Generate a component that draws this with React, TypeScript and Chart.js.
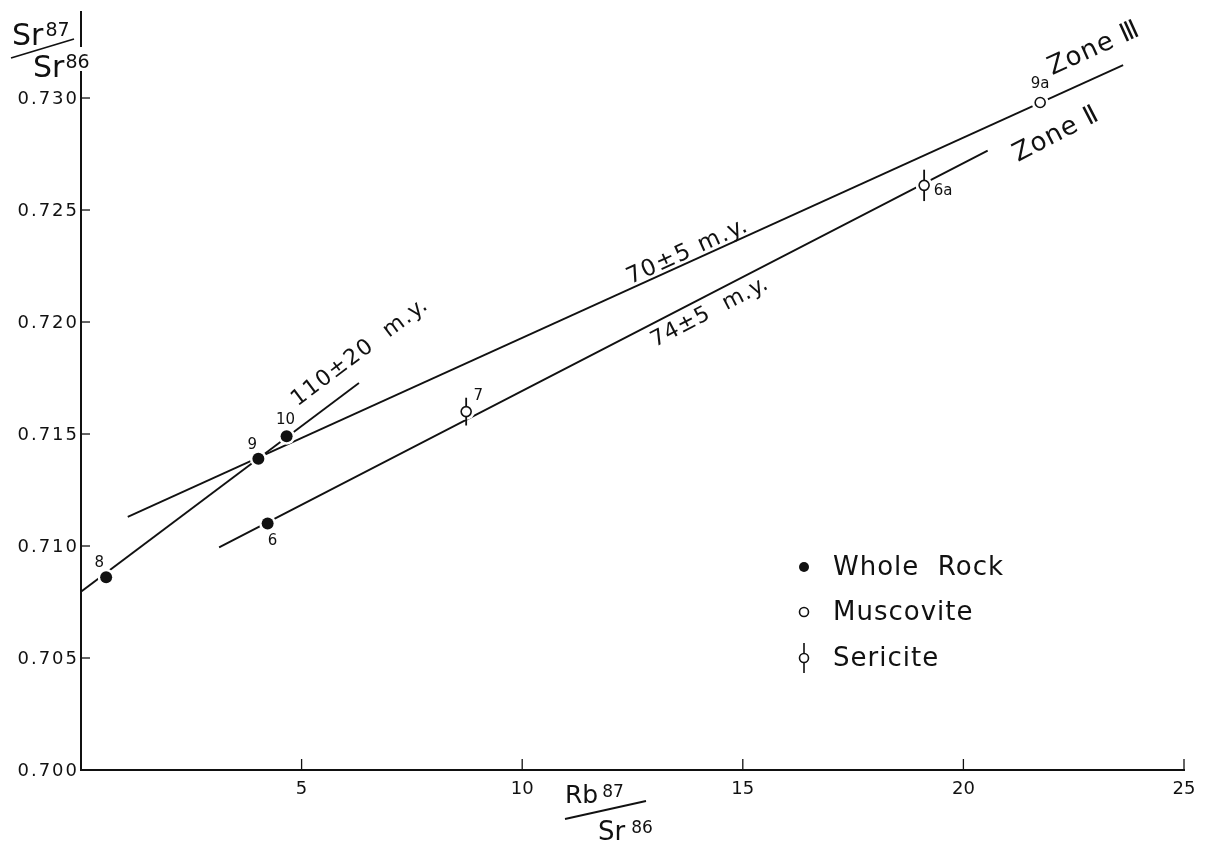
import React, { useEffect, useRef } from 'react';
import { Chart, registerables } from 'chart.js';

Chart.register(...registerables);

// ---------- data ----------
const xTickValues = [5, 10, 15, 20, 25];
const xTickLabels = ['5', '10', '15', '20', '25'];
const yTickValues = [0.7, 0.705, 0.71, 0.715, 0.72, 0.725, 0.73];
const yTickLabels = ['0.700', '0.705', '0.710', '0.715', '0.720', '0.725', '0.730'];

const wholeRockIds = ['8', '9', '10', '6'];
const wholeRockRb = [0.57, 4.02, 4.66, 4.23];
const wholeRockSr = [0.7086, 0.7139, 0.7149, 0.711];

const muscoviteIds = ['9a'];
const muscoviteRb = [21.74];
const muscoviteSr = [0.7298];

const sericiteIds = ['7', '6a'];
const sericiteRb = [8.73, 19.11];
const sericiteSr = [0.716, 0.7261];
const sericiteErr = [0.00062, 0.0007];

// isochron lines (end points)
const zone3Rb = [1.06, 23.62];
const zone3Sr = [0.7113, 0.73147];
const zone2Rb = [3.13, 20.55];
const zone2Sr = [0.70994, 0.72765];
const iso110Rb = [0, 6.3];
const iso110Sr = [0.70796, 0.71728];

const xMin = 0;
const xMax = 25;
const yMin = 0.7;
const yMax = 0.73384;

// ---------- styles ----------
const FONT = '"DejaVu Sans", "Liberation Sans", sans-serif';
const INK = '#111';

const idLabelOffsets: Record<string, [number, number]> = {
  '8': [-7, -14],
  '9': [-6, -14],
  '10': [-1, -16],
  '6': [5, 18],
  '7': [12, -15],
  '6a': [19, 6],
  '9a': [0, -18],
};

type Ann = { text: string; line: 'z3' | 'z2' | 'i110'; ax: number; off: number; size: number; ls: number };
const annotations: Ann[] = [
  { text: '70±5 m.y.', line: 'z3', ax: 12.49, off: 4, size: 23, ls: 1.5 },
  { text: '74±5  m.y.', line: 'z2', ax: 12.78, off: -22, size: 22, ls: 1 },
  { text: '110±20  m.y.', line: 'i110', ax: 5.15, off: 18, size: 22, ls: 1.5 },
  { text: 'Zone Ⅲ', line: 'z3', ax: 22.2, off: 20, size: 26, ls: 1 },
  { text: 'Zone Ⅱ', line: 'z2', ax: 20.99, off: -24, size: 26, ls: 1 },
];

const pts = (xs: number[], ys: number[]) => xs.map((x, i) => ({ x, y: ys[i] }));

export default function App() {
  const ref = useRef<HTMLCanvasElement | null>(null);

  useEffect(() => {
    const canvas = ref.current;
    if (!canvas) return;

    const lineDs = (data: any[]) => ({
      type: 'scatter' as const,
      data,
      showLine: true,
      borderColor: INK,
      borderWidth: 1.8,
      pointRadius: 0,
      order: 5,
    });

    const allRb = [...wholeRockRb, ...muscoviteRb, ...sericiteRb];
    const allSr = [...wholeRockSr, ...muscoviteSr, ...sericiteSr];

    const errDatasets = sericiteRb.map((x, i) => ({
      type: 'scatter' as const,
      data: [
        { x, y: sericiteSr[i] - sericiteErr[i] },
        { x, y: sericiteSr[i] + sericiteErr[i] },
      ],
      showLine: true,
      borderColor: INK,
      borderWidth: 1.8,
      pointRadius: 0,
      order: 2,
    }));

    const overlay = {
      id: 'overlay',
      afterDraw(chart: any) {
        const ctx = chart.ctx as CanvasRenderingContext2D;
        const xs = chart.scales.x;
        const ys = chart.scales.y;
        const area = chart.chartArea;
        ctx.save();
        ctx.fillStyle = INK;
        ctx.strokeStyle = INK;

        // inward tick marks
        ctx.lineWidth = 1.3;
        xTickValues.forEach((v) => {
          const px = xs.getPixelForValue(v);
          ctx.beginPath();
          ctx.moveTo(px, area.bottom);
          ctx.lineTo(px, area.bottom - 11);
          ctx.stroke();
        });
        yTickValues.forEach((v) => {
          const py = ys.getPixelForValue(v);
          ctx.beginPath();
          ctx.moveTo(area.left, py);
          ctx.lineTo(area.left + 9, py);
          ctx.stroke();
        });

        // y tick labels (wide lettering)
        ctx.font = `18px ${FONT}`;
        (ctx as any).letterSpacing = '2px';
        ctx.textAlign = 'right';
        ctx.textBaseline = 'middle';
        yTickValues.forEach((v, i) => {
          ctx.fillText(yTickLabels[i], area.left - 2, ys.getPixelForValue(v) + 1);
        });
        (ctx as any).letterSpacing = '0px';

        // point id labels
        ctx.font = `15px ${FONT}`;
        ctx.textAlign = 'center';
        ctx.textBaseline = 'middle';
        const drawIds = (ids: string[], rx: number[], ry: number[]) => {
          ids.forEach((id, i) => {
            const o = idLabelOffsets[id] || [0, -15];
            ctx.fillText(id, xs.getPixelForValue(rx[i]) + o[0], ys.getPixelForValue(ry[i]) + o[1]);
          });
        };
        drawIds(wholeRockIds, wholeRockRb, wholeRockSr);
        drawIds(muscoviteIds, muscoviteRb, muscoviteSr);
        drawIds(sericiteIds, sericiteRb, sericiteSr);

        // rotated annotations along lines
        const lines: Record<string, [number[], number[]]> = {
          z3: [zone3Rb, zone3Sr],
          z2: [zone2Rb, zone2Sr],
          i110: [iso110Rb, iso110Sr],
        };
        annotations.forEach((a) => {
          const [lx, ly] = lines[a.line];
          const x0 = xs.getPixelForValue(lx[0]);
          const y0 = ys.getPixelForValue(ly[0]);
          const x1 = xs.getPixelForValue(lx[1]);
          const y1 = ys.getPixelForValue(ly[1]);
          const th = Math.atan2(y1 - y0, x1 - x0);
          const ax = xs.getPixelForValue(a.ax);
          const ay = y0 + ((ax - x0) * (y1 - y0)) / (x1 - x0);
          const nx = Math.sin(th);
          const ny = -Math.cos(th);
          ctx.save();
          ctx.translate(ax + nx * a.off, ay + ny * a.off);
          ctx.rotate(th);
          ctx.font = `${a.size}px ${FONT}`;
          (ctx as any).letterSpacing = `${a.ls}px`;
          ctx.textAlign = 'left';
          ctx.textBaseline = 'alphabetic';
          ctx.fillText(a.text, 0, 0);
          ctx.restore();
        });

        // axis titles
        const sup = (x: number, y: number, base: string, s: string, bs: number, ss: number, dy: number, gap: number) => {
          ctx.textAlign = 'left';
          ctx.textBaseline = 'alphabetic';
          ctx.font = `${bs}px ${FONT}`;
          ctx.fillText(base, x, y);
          const w = ctx.measureText(base).width;
          ctx.font = `${ss}px ${FONT}`;
          ctx.fillText(s, x + w + gap, y - dy);
        };
        ctx.fillStyle = '#fff';
        ctx.fillRect(area.left - 3, 47, 7, 24);
        ctx.fillStyle = INK;
        sup(12, 45, 'Sr', '87', 30, 19, 9, 2);
        sup(33, 77, 'Sr', '86', 30, 19, 9, 1);
        ctx.lineWidth = 1.8;
        ctx.beginPath();
        ctx.moveTo(11, 58);
        ctx.lineTo(74, 39);
        ctx.stroke();

        sup(565, 803, 'Rb', '87', 25, 17, 6, 4);
        sup(598, 840, 'Sr', '86', 26, 17, 7, 6);
        ctx.beginPath();
        ctx.moveTo(565, 819);
        ctx.lineTo(646, 801);
        ctx.stroke();

        // legend
        const lx = 804;
        const rows = [567, 612, 658];
        ctx.lineWidth = 1.6;
        ctx.beginPath();
        ctx.arc(lx, rows[0], 5, 0, Math.PI * 2);
        ctx.fill();
        ctx.beginPath();
        ctx.arc(lx, rows[1], 4.5, 0, Math.PI * 2);
        ctx.stroke();
        ctx.beginPath();
        ctx.moveTo(lx, rows[2] - 15);
        ctx.lineTo(lx, rows[2] - 4.5);
        ctx.moveTo(lx, rows[2] + 4.5);
        ctx.lineTo(lx, rows[2] + 15);
        ctx.stroke();
        ctx.beginPath();
        ctx.arc(lx, rows[2], 4.5, 0, Math.PI * 2);
        ctx.stroke();
        ctx.font = `26px ${FONT}`;
        (ctx as any).letterSpacing = '1px';
        ctx.textAlign = 'left';
        ctx.textBaseline = 'middle';
        ctx.fillText('Whole  Rock', 833, rows[0] + 1);
        ctx.fillText('Muscovite', 833, rows[1] + 1);
        ctx.fillText('Sericite', 833, rows[2] + 1);
        (ctx as any).letterSpacing = '0px';
        ctx.restore();
      },
    };

    const chart = new Chart(canvas, {
      type: 'scatter',
      data: {
        datasets: [
          {
            label: 'Whole Rock',
            data: pts(wholeRockRb, wholeRockSr),
            pointRadius: 6,
            backgroundColor: INK,
            borderWidth: 0,
            order: 0,
          } as any,
          {
            label: 'Muscovite',
            data: pts(muscoviteRb, muscoviteSr),
            pointRadius: 5,
            backgroundColor: '#fff',
            borderColor: INK,
            borderWidth: 1.6,
            order: 1,
          },
          {
            label: 'Sericite',
            data: pts(sericiteRb, sericiteSr),
            pointRadius: 5,
            backgroundColor: '#fff',
            borderColor: INK,
            borderWidth: 1.6,
            order: 1,
          },
          ...errDatasets,
          {
            label: 'halo',
            data: pts(allRb, allSr),
            pointRadius: 8.5,
            backgroundColor: '#fff',
            borderWidth: 0,
            order: 3,
          },
          { label: 'Zone III 70±5 m.y.', ...lineDs(pts(zone3Rb, zone3Sr)) },
          { label: 'Zone II 74±5 m.y.', ...lineDs(pts(zone2Rb, zone2Sr)) },
          { label: '110±20 m.y.', ...lineDs(pts(iso110Rb, iso110Sr)) },
        ] as any,
      },
      options: {
        responsive: false,
        animation: false,
        events: [],
        layout: { padding: { left: 0, right: 24, top: 12, bottom: 0 } },
        plugins: { legend: { display: false }, tooltip: { enabled: false } },
        scales: {
          x: {
            type: 'linear',
            min: xMin,
            max: xMax,
            afterBuildTicks: (s: any) => {
              s.ticks = xTickValues.map((v) => ({ value: v }));
            },
            afterFit: (s: any) => {
              s.height = 74;
            },
            ticks: {
              autoSkip: false,
              maxRotation: 0,
              padding: 9,
              color: INK,
              font: { family: FONT, size: 18 },
              callback: (v: any) => {
                const i = xTickValues.findIndex((t) => Math.abs(t - v) < 1e-9);
                return i >= 0 ? xTickLabels[i] : '';
              },
            },
            grid: { display: false, drawTicks: false },
            border: { display: true, color: INK, width: 2 },
          },
          y: {
            type: 'linear',
            min: yMin,
            max: yMax,
            afterBuildTicks: (s: any) => {
              s.ticks = yTickValues.map((v) => ({ value: v }));
            },
            afterFit: (s: any) => {
              s.width = 81;
            },
            ticks: { display: false },
            grid: { display: false, drawTicks: false },
            border: { display: true, color: INK, width: 2 },
          },
        },
      },
      plugins: [overlay],
    } as any);

    return () => chart.destroy();
  }, []);

  return (
    <div style={{ position: 'fixed', left: 0, top: 0, width: 1208, height: 844, background: '#fff' }}>
      <canvas ref={ref} width={1208} height={844} style={{ width: 1208, height: 844, display: 'block' }} />
    </div>
  );
}
